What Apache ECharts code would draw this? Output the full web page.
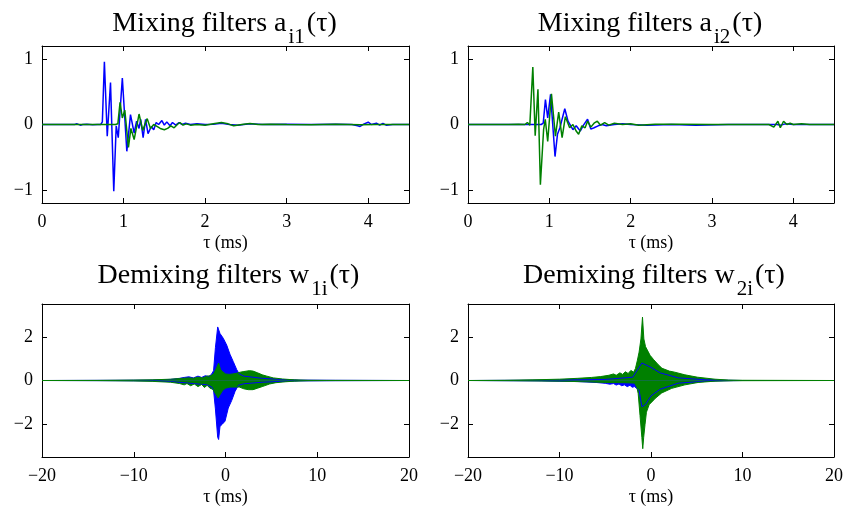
<!DOCTYPE html>
<html>
<head>
<meta charset="utf-8">
<script src="https://cdn.jsdelivr.net/npm/echarts@6/dist/echarts.min.js"></script>
<style>
  html, body { margin: 0; padding: 0; background: #ffffff; }
  #chart { width: 849px; height: 507px; }
</style>
</head>
<body>
<div id="chart"></div>
<script>
// ---- Mixing filters a_i1(τ): [τ (ms), amplitude]
const mixA1Blue = [
  [0,0],[0.40,0],[0.43,0.01],[0.45,0.02],[0.47,-0.01],[0.50,0],[0.55,0.005],[0.62,-0.005],
  [0.68,0],[0.70,0.02],[0.72,0],[0.74,0.04],[0.765,0.96],[0.80,-0.18],[0.84,0.64],[0.88,-1.02],
  [0.91,-0.02],[0.935,-0.2],[0.985,0.71],[1.04,-0.41],[1.085,0.15],[1.13,-0.13],[1.16,0.05],
  [1.19,-0.06],[1.21,0.08],[1.24,-0.2],[1.27,0.08],[1.30,-0.14],[1.34,-0.03],[1.37,-0.08],
  [1.40,0.03],[1.43,0.0],[1.47,0.06],[1.50,-0.01],[1.53,0.04],[1.57,-0.02],[1.60,0.03],
  [1.64,-0.01],[1.68,0.03],[1.72,0],[1.76,0.02],[1.82,0],[1.9,0.01],[2.0,0],[2.1,0.005],
  [2.2,0.02],[2.3,0],[2.4,-0.01],[2.55,0.01],[2.7,0],[3.0,0.005],[3.3,0],[3.6,0.005],[3.8,0],
  [3.87,-0.02],[3.9,-0.03],[3.95,0.01],[4.0,0.035],[4.04,0],[4.1,0.02],[4.14,-0.01],
  [4.18,0.015],[4.22,-0.01],[4.3,0],[4.5,0]
];
const mixA1Green = [
  [0,0],[0.6,0],[0.9,0],[0.93,0.01],[0.957,0.34],[0.985,0.1],[1.015,0.22],[1.06,-0.35],
  [1.09,-0.06],[1.13,-0.23],[1.19,0.16],[1.235,-0.09],[1.29,0.09],[1.33,-0.06],[1.37,0.0],
  [1.41,-0.03],[1.45,-0.06],[1.5,-0.08],[1.54,-0.06],[1.58,-0.02],[1.62,-0.05],[1.66,0.0],
  [1.69,0.03],[1.73,-0.01],[1.77,0.01],[1.82,-0.01],[1.9,0.0],[2.0,-0.01],[2.1,0.01],
  [2.2,0.03],[2.28,0.01],[2.35,-0.02],[2.45,0],[2.55,0.015],[2.65,0],[2.8,0.005],[3.0,0],
  [3.3,-0.005],[3.6,0.005],[3.9,-0.005],[4.1,0],[4.5,0]
];

// ---- Mixing filters a_i2(τ)
const mixA2Blue = [
  [0,0],[0.5,0],[0.8,0],[0.9,0.0],[0.925,0.02],[0.952,0.38],[0.98,0.1],[1.015,0.46],
  [1.07,-0.49],[1.10,-0.15],[1.13,-0.05],[1.19,0.24],[1.23,0.05],[1.29,-0.08],[1.33,-0.02],
  [1.38,-0.1],[1.42,-0.01],[1.47,0.08],[1.51,-0.07],[1.55,-0.05],[1.6,-0.02],[1.65,0.0],
  [1.7,-0.02],[1.8,0.0],[1.9,0.01],[2.0,0],[2.2,-0.01],[2.5,0],[2.8,-0.01],[3.2,0],[3.6,0],
  [3.8,0],[3.85,-0.01],[3.9,0.01],[4.0,0],[4.5,0]
];
const mixA2Green = [
  [0,0],[0.5,0],[0.62,0.005],[0.7,0],[0.73,0.03],[0.76,-0.01],[0.775,0.02],[0.797,0.88],
  [0.826,-0.17],[0.86,0.54],[0.89,-0.92],[0.93,-0.07],[0.95,0.08],[0.98,-0.26],[1.026,0.47],
  [1.075,-0.18],[1.115,0.19],[1.157,-0.2],[1.197,0.12],[1.25,-0.05],[1.29,0.0],[1.33,-0.1],
  [1.36,-0.15],[1.40,-0.02],[1.44,-0.05],[1.47,0.05],[1.51,-0.04],[1.55,0.02],[1.59,0.05],
  [1.63,-0.01],[1.68,0.03],[1.73,-0.01],[1.8,0.02],[1.9,0],[2.0,0.01],[2.1,-0.01],[2.3,0.005],
  [2.6,0.005],[3.0,0],[3.4,0],[3.7,0],[3.76,-0.04],[3.81,0.05],[3.84,-0.05],[3.88,0.05],
  [3.92,0.0],[3.96,0.02],[4.0,0],[4.1,0.01],[4.2,0],[4.5,0]
];

// ---- Demixing filters w_1i(τ): upper / lower envelopes of the dense responses
const demixW1BlueUpper = [
  [-20,0],[-12,0.01],[-8,0.02],[-6,0.05],[-5,0.1],[-4.5,0.14],[-4,0.17],[-3.5,0.12],[-3,0.2],
  [-2.6,0.14],[-2.2,0.22],[-1.8,0.18],[-1.5,0.3],[-1.3,0.45],[-1.1,1.5],[-0.85,2.45],
  [-0.6,2.15],[-0.24,1.93],[0.13,1.62],[0.49,1.2],[0.85,0.86],[1.22,0.5],[1.5,0.3],[2,0.2],
  [4,0.1],[6,0.05],[8,0.02],[12,0.01],[20,0]
];
const demixW1BlueLower = [
  [-20,0],[-12,-0.01],[-8,-0.02],[-6,-0.05],[-4,-0.12],[-2,-0.2],[-1.5,-0.3],[-1.3,-0.45],
  [-1.1,-1.3],[-0.85,-2.6],[-0.75,-2.7],[-0.6,-2.1],[-0.35,-2.0],[-0.05,-1.86],[0.3,-1.26],
  [0.67,-0.92],[1.04,-0.5],[1.4,-0.22],[1.6,-0.2],[2,-0.15],[4,-0.08],[6,-0.04],[8,-0.02],
  [12,-0.01],[20,0]
];
const demixW1GreenUpper = [
  [-20,0],[-14,0.005],[-10,0.02],[-8,0.03],[-6,0.06],[-5,0.09],[-4,0.12],[-3.5,0.1],[-3,0.15],
  [-2.5,0.12],[-2,0.2],[-1.6,0.22],[-1.3,0.3],[-1.0,0.55],[-0.75,0.8],[-0.55,0.5],[-0.3,0.4],
  [0,0.3],[0.4,0.28],[0.8,0.3],[1.2,0.33],[1.6,0.38],[2.0,0.41],[2.6,0.45],[3.0,0.43],
  [3.5,0.35],[4,0.26],[4.5,0.2],[5.2,0.12],[6.2,0.07],[7.5,0.03],[9,0.01],[11,0.005],[20,0]
];
const demixW1GreenLower = [
  [-20,0],[-14,-0.005],[-10,-0.02],[-8,-0.04],[-6,-0.08],[-5,-0.14],[-4.5,-0.2],[-4.2,-0.14],
  [-3.8,-0.24],[-3.4,-0.16],[-3,-0.28],[-2.6,-0.18],[-2.3,-0.32],[-2,-0.22],[-1.7,-0.35],
  [-1.4,-0.4],[-1.1,-0.6],[-0.8,-0.8],[-0.6,-0.65],[-0.3,-0.45],[0,-0.35],[0.5,-0.3],[1,-0.3],
  [1.5,-0.3],[2,-0.38],[2.5,-0.42],[3,-0.42],[3.5,-0.35],[4,-0.28],[4.8,-0.16],[5.5,-0.1],
  [6.5,-0.06],[7.5,-0.03],[9,-0.01],[11,-0.005],[20,0]
];

// ---- Demixing filters w_2i(τ)
const demixW2BlueUpper = [
  [-20,0],[-10,0.02],[-5,0.05],[-2,0.15],[-1,0.8],[0,0.6],[1,0.35],[3,0.12],[6,0.03],[10,0],[20,0]
];
const demixW2BlueLower = [
  [-20,0],[-12,-0.02],[-8,-0.05],[-6,-0.09],[-5,-0.13],[-4.5,-0.17],[-4.1,-0.14],[-3.8,-0.21],
  [-3.5,-0.16],[-3.2,-0.24],[-2.9,-0.2],[-2.6,-0.28],[-2.3,-0.22],[-2.05,-0.31],[-1.8,-0.28],
  [-1.6,-0.3],[-1.3,-0.45],[-1,-1.2],[-0.6,-1.1],[0,-0.7],[1,-0.4],[3,-0.12],[6,-0.03],
  [10,0],[20,0]
];
const demixW2GreenUpper = [
  [-20,0],[-16,0.01],[-13,0.03],[-10,0.06],[-8,0.1],[-6.5,0.14],[-5.5,0.18],[-4.6,0.24],
  [-4.1,0.3],[-3.8,0.24],[-3.4,0.35],[-3.1,0.28],[-2.8,0.4],[-2.5,0.32],[-2.2,0.46],
  [-1.9,0.38],[-1.7,0.55],[-1.5,0.9],[-1.3,1.3],[-1.1,1.9],[-0.93,2.9],[-0.78,1.9],
  [-0.6,1.55],[-0.35,1.35],[-0.1,1.15],[0.3,0.95],[0.8,0.72],[1.2,0.56],[2,0.43],[2.6,0.38],
  [3.7,0.26],[5.1,0.15],[7,0.06],[8.5,0.02],[10,0.01],[20,0]
];
const demixW2GreenLower = [
  [-20,0],[-15,-0.01],[-10,-0.03],[-7,-0.06],[-5,-0.09],[-3,-0.1],[-1.8,-0.12],[-1.55,-0.3],
  [-1.4,-0.6],[-1.2,-1.6],[-1.0,-2.6],[-0.9,-3.12],[-0.8,-2.6],[-0.65,-2.0],[-0.5,-1.45],
  [-0.2,-1.1],[0.1,-0.98],[0.45,-0.82],[1.17,-0.57],[2.26,-0.36],[3.7,-0.2],[5.15,-0.09],
  [7,-0.03],[9,-0.01],[20,0]
];

// ---- Tick values
const mixTicksX = [0, 1, 2, 3, 4];
const mixTicksY = [-1, 0, 1];
const demixTicksX = [-20, -10, 0, 10, 20];
const demixTicksY = [-2, 0, 2];

const BLUE = '#0000ff';
const GREEN = '#008000';
const FONT = '"Liberation Serif", "Times New Roman", serif';

const panels = [
  { box: [42, 46, 367, 157], titleTop: 5, titleShift: -6, xr: [0, 4.5], yr: [-1.2, 1.2],
    xt: mixTicksX, yt: mixTicksY,
    title: ['Mixing filters a', 'i1'], lines: [[mixA1Blue, BLUE], [mixA1Green, GREEN]] },
  { box: [468, 46, 366, 157], titleTop: 5, titleShift: -6, xr: [0, 4.5], yr: [-1.2, 1.2],
    xt: mixTicksX, yt: mixTicksY,
    title: ['Mixing filters a', 'i2'], lines: [[mixA2Blue, BLUE], [mixA2Green, GREEN]] },
  { box: [42, 304, 367, 154], titleTop: 257, titleShift: -2, xr: [-20, 20], yr: [-3.5, 3.5],
    xt: demixTicksX, yt: demixTicksY,
    title: ['Demixing filters w', '1i'],
    bands: [[demixW1BlueUpper, demixW1BlueLower, BLUE], [demixW1GreenUpper, demixW1GreenLower, GREEN]] },
  { box: [468, 304, 366, 154], titleTop: 257, titleShift: -2, xr: [-20, 20], yr: [-3.5, 3.5],
    xt: demixTicksX, yt: demixTicksY,
    title: ['Demixing filters w', '2i'],
    bands: [[demixW2BlueUpper, demixW2BlueLower, BLUE], [demixW2GreenUpper, demixW2GreenLower, GREEN]] }
];

const fmt = v => String(v).replace('-', '\u2212');
const labelStyle = { fontFamily: FONT, fontSize: 18, color: '#000' };

const grid = [], xAxis = [], yAxis = [], series = [], title = [];

panels.forEach((p, i) => {
  const [l, t, w, h] = p.box;
  grid.push({ left: l, top: t, width: w, height: h, containLabel: false });
  const frame = { show: true, onZero: false, lineStyle: { color: '#000', width: 1 } };
  const tick = vals => ({ show: true, inside: true, length: 5, customValues: vals,
                          lineStyle: { color: '#000', width: 1 } });
  xAxis.push({
    gridIndex: i, type: 'value', position: 'bottom', min: p.xr[0], max: p.xr[1],
    axisLine: frame, axisTick: tick(p.xt), splitLine: { show: false },
    axisLabel: Object.assign({ customValues: p.xt, formatter: fmt, margin: 10 }, labelStyle),
    name: '\u03c4 (ms)', nameLocation: 'middle', nameGap: 31, nameTextStyle: labelStyle
  });
  xAxis.push({
    gridIndex: i, type: 'value', position: 'top', min: p.xr[0], max: p.xr[1],
    axisLine: frame, axisTick: tick(p.xt), splitLine: { show: false }, axisLabel: { show: false }
  });
  yAxis.push({
    gridIndex: i, type: 'value', position: 'left', min: p.yr[0], max: p.yr[1],
    axisLine: frame, axisTick: tick(p.yt), splitLine: { show: false },
    axisLabel: Object.assign({ customValues: p.yt, formatter: fmt, margin: 9 }, labelStyle)
  });
  yAxis.push({
    gridIndex: i, type: 'value', position: 'right', min: p.yr[0], max: p.yr[1],
    axisLine: frame, axisTick: tick(p.yt), splitLine: { show: false }, axisLabel: { show: false }
  });

  const main = { fontFamily: FONT, fontSize: 28, fontWeight: 'normal', color: '#000',
                 lineHeight: 32, verticalAlign: 'top' };
  title.push({
    left: l + w / 2 + p.titleShift, top: p.titleTop, textAlign: 'center',
    text: '{m|' + p.title[0] + '}{s|' + p.title[1] + '}{m|(\u03c4)}',
    textStyle: {
      fontWeight: 'normal',
      rich: {
        m: main,
        s: { fontFamily: FONT, fontSize: 21, fontWeight: 'normal', color: '#000', lineHeight: 21,
             verticalAlign: 'top', padding: [17, 2, 0, 2] }
      }
    }
  });

  const xi = 2 * i, yi = 2 * i;
  (p.lines || []).forEach(([data, color]) => {
    series.push({
      type: 'line', xAxisIndex: xi, yAxisIndex: yi, data, symbol: 'none',
      lineStyle: { color, width: 1.5 }, itemStyle: { color }
    });
  });
  (p.bands || []).forEach(([upper, lower, color]) => {
    [upper, lower].forEach(data => {
      series.push({
        type: 'line', xAxisIndex: xi, yAxisIndex: yi, data, symbol: 'none',
        lineStyle: { color, width: 1 }, itemStyle: { color },
        areaStyle: { color, opacity: 1 }
      });
    });
  });
});

const chart = echarts.init(document.getElementById('chart'), null, { renderer: 'canvas' });
chart.setOption({
  animation: false,
  backgroundColor: '#ffffff',
  title, grid, xAxis, yAxis, series
});
</script>
</body>
</html>
